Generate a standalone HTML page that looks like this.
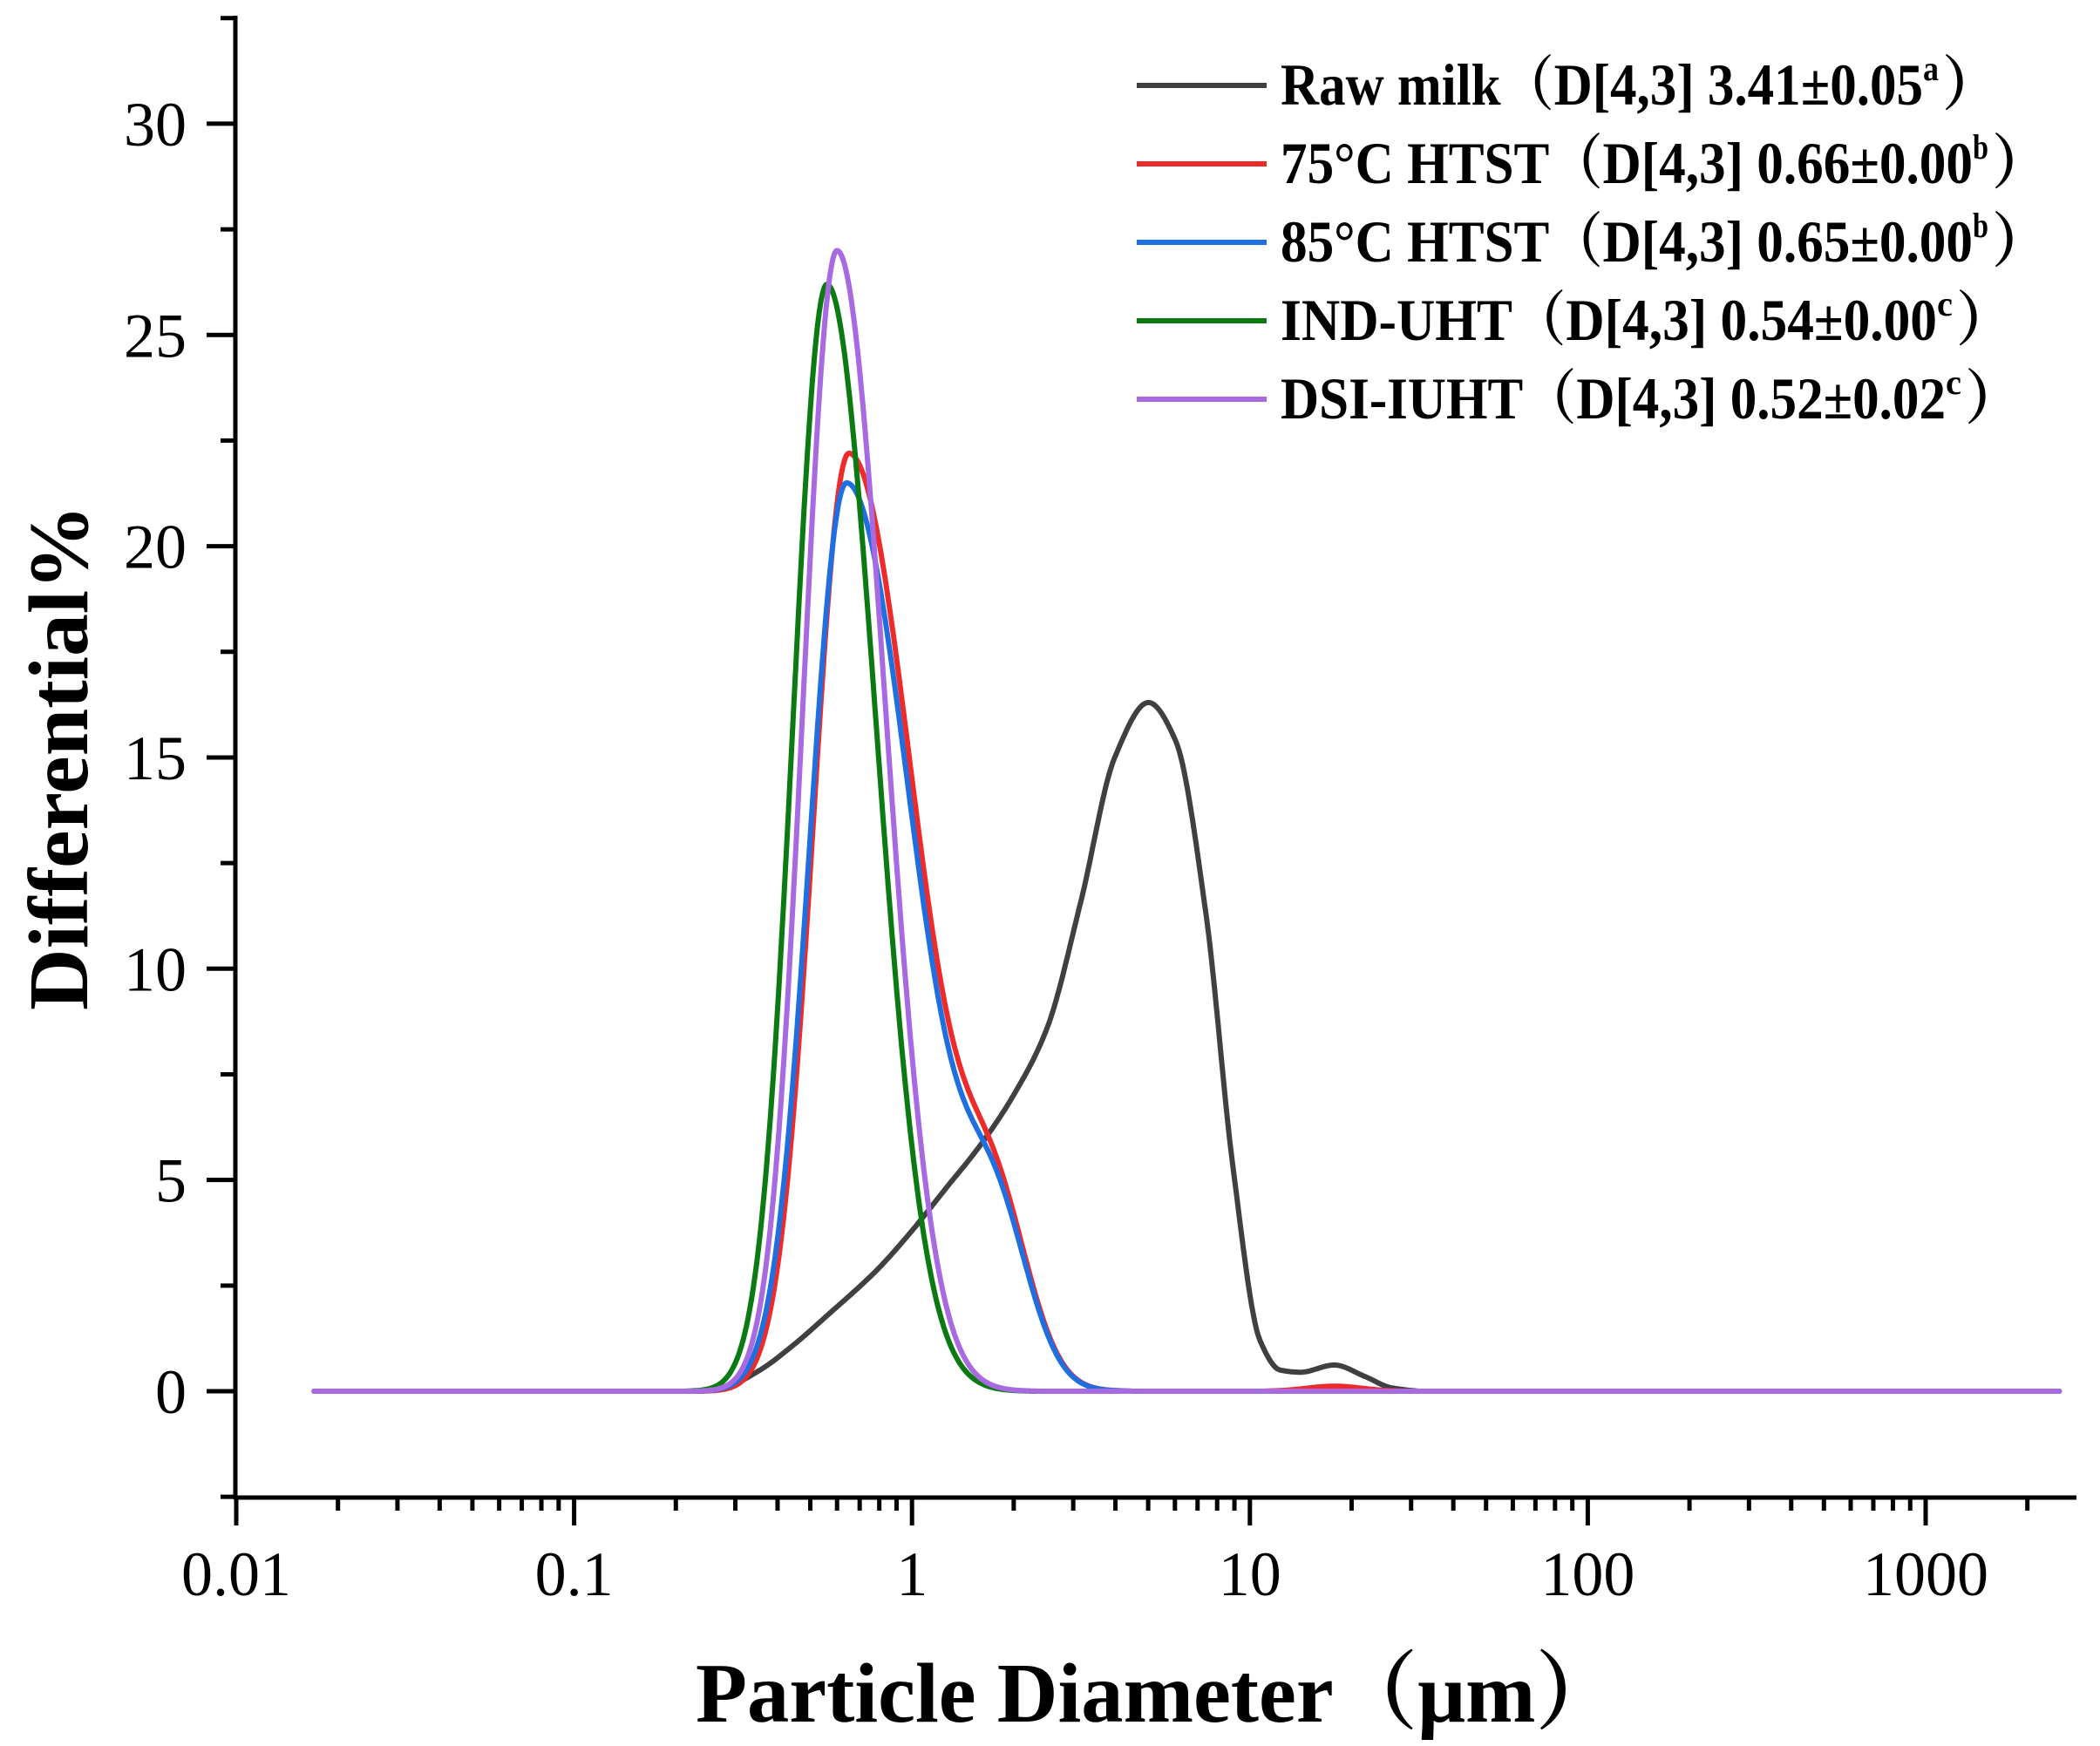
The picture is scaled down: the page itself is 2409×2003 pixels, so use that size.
<!DOCTYPE html>
<html><head><meta charset="utf-8"><style>html,body{margin:0;padding:0;background:#fff}svg{display:block}</style></head>
<body>
<svg id="s" width="2409" height="2003" viewBox="0 0 2409 2003" xmlns="http://www.w3.org/2000/svg" font-family="'Liberation Serif','Noto Serif CJK SC',serif">
<g id="ax" stroke="#000" stroke-width="5" fill="none">
<line x1="270" y1="18" x2="270" y2="1720"/>
<line x1="268" y1="1718" x2="2382" y2="1718"/>
</g>
<g id="ticks" stroke="#000" stroke-width="5"></g>
<g id="labels" font-size="72" fill="#000"></g>
<g id="curves" fill="none" stroke-width="6" stroke-linejoin="round" stroke-linecap="round"></g>
<text x="0" y="0" font-size="98" font-weight="bold" transform="translate(100,869) rotate(-90)" text-anchor="middle" textLength="580" lengthAdjust="spacingAndGlyphs">Differential%</text>
<text x="798" y="1975" font-size="98" font-weight="bold" textLength="1060" lengthAdjust="spacingAndGlyphs">Particle Diameter（μm）</text>
<g id="legend" font-size="68" font-weight="bold"></g>
</svg>
<script>
const NS="http://www.w3.org/2000/svg";
function el(t,a,p,txt){const e=document.createElementNS(NS,t);for(const k in a)e.setAttribute(k,a[k]);if(txt!==undefined)e.textContent=txt;document.getElementById(p).appendChild(e);return e;}
const X0=271,DEC=387.6,Y0=1596,U=48.47;
const xp=l=>X0+DEC*(l+2), yp=v=>Y0-U*v;
for(let v=-2.5;v<=32.5;v+=2.5){const y=yp(v);if(y<18)continue;const major=Math.abs(v%5)<1e-6;
 el('line',{x1:major?237:253,y1:y,x2:270,y2:y},'ticks');
 if(major&&v>=0) el('text',{x:214,y:y+25,'text-anchor':'end'},'labels',String(v));}
for(let d=-2;d<=3;d++){for(let m=1;m<=9;m++){const l=d+Math.log10(m);const x=xp(l);if(x>2380)continue;
 el('line',{x1:x,y1:1718,x2:x,y2:m==1?1750:1733},'ticks');}}
const xl=['0.01','0.1','1','10','100','1000'];
xl.forEach((t,i)=>el('text',{x:xp(i-2),y:1830,'text-anchor':'middle'},'labels',t));
function g(l,c,a,sl,sr){const s=l<c?sl:sr;return a*Math.exp(-(l-c)*(l-c)/(2*s*s));}
function mono(pts){const n=pts.length,xs=pts.map(p=>p[0]),ys=pts.map(p=>p[1]);const dx=[],m=[];
 for(let i=0;i<n-1;i++){dx.push(xs[i+1]-xs[i]);m.push((ys[i+1]-ys[i])/dx[i]);}
 const t=[m[0]];for(let i=1;i<n-1;i++){if(m[i-1]*m[i]<=0)t.push(0);else{const w1=2*dx[i]+dx[i-1],w2=dx[i]+2*dx[i-1];t.push((w1+w2)/(w1/m[i-1]+w2/m[i]));}}t.push(m[n-2]);
 return l=>{if(l<=xs[0])return ys[0];if(l>=xs[n-1])return ys[n-1];let i=0;while(l>xs[i+1])i++;const h=dx[i],s=(l-xs[i])/h;
  const h00=2*s*s*s-3*s*s+1,h10=s*s*s-2*s*s+s,h01=-2*s*s*s+3*s*s,h11=s*s*s-s*s;return h00*ys[i]+h10*h*t[i]+h01*ys[i+1]+h11*h*t[i+1];};}
const raw=mono([[-0.62,0],[-0.55,0.1],[-0.45,0.5],[-0.35,1.1],[-0.25,1.8],[-0.1,2.9],[0,3.8],[0.1,4.8],[0.2,5.8],[0.3,7.0],[0.4,8.6],[0.5,11.6],[0.6,15.0],[0.7,16.3],[0.78,15.4],[0.87,11.3],[0.95,5.3],[1.03,1.2],[1.09,0.5],[1.15,0.45],[1.25,0.62],[1.34,0.35],[1.42,0.08],[1.52,0],[4,0]]);
const series=[
 ['#404040',l=>raw(l)],
 ['#ee2b2b',l=>g(l,-0.187,22.2,0.105,0.2)+g(l,0.25,3.5,0.1,0.1)+g(l,1.25,0.12,0.08,0.08)],
 ['#1f6fe0',l=>g(l,-0.194,21.5,0.108,0.2)+g(l,0.25,3.4,0.1,0.1)],
 ['#0b7a12',l=>g(l,-0.252,26.2,0.1,0.145)],
 ['#a86ae0',l=>g(l,-0.222,27.0,0.1,0.142)]
];
const lmin=Math.log10(0.017),lmax=Math.log10(2500);
series.forEach(([c,f])=>{let d='';for(let l=lmin;l<=lmax+1e-9;l+=0.005){let v=f(l);if(v<0.005)v=0;d+=(d?'L':'M')+xp(l).toFixed(1)+','+yp(v).toFixed(1);}
 el('path',{d:d,stroke:c},'curves');});
const lg=[['#404040','Raw milk（D[4,3] 3.41±0.05','a','）',2296],['#ee2b2b','75°C HTST（D[4,3] 0.66±0.00','b','）',2353],['#1f6fe0','85°C HTST（D[4,3] 0.65±0.00','b','）',2353],['#0b7a12','IND-UHT（D[4,3] 0.54±0.00','c','）',2312],['#a86ae0','DSI-IUHT（D[4,3] 0.52±0.02','c','）',2322]];
lg.forEach(([c,t,sup,end,xe],i)=>{const y=120+90*i;
 el('line',{x1:1304,y1:y-22,x2:1453,y2:y-22,stroke:c,'stroke-width':6},'legend');
 const w=xe-1469;
 el('text',{x:1469,y:y,textLength:w-90,lengthAdjust:'spacingAndGlyphs'},'legend',t);
 el('text',{x:1469+w-90,y:y-28,'font-size':40,textLength:18,lengthAdjust:'spacingAndGlyphs'},'legend',sup);
 el('text',{x:1469+w-68,y:y,textLength:66,lengthAdjust:'spacingAndGlyphs'},'legend',end);
});
</script>
</body></html>
